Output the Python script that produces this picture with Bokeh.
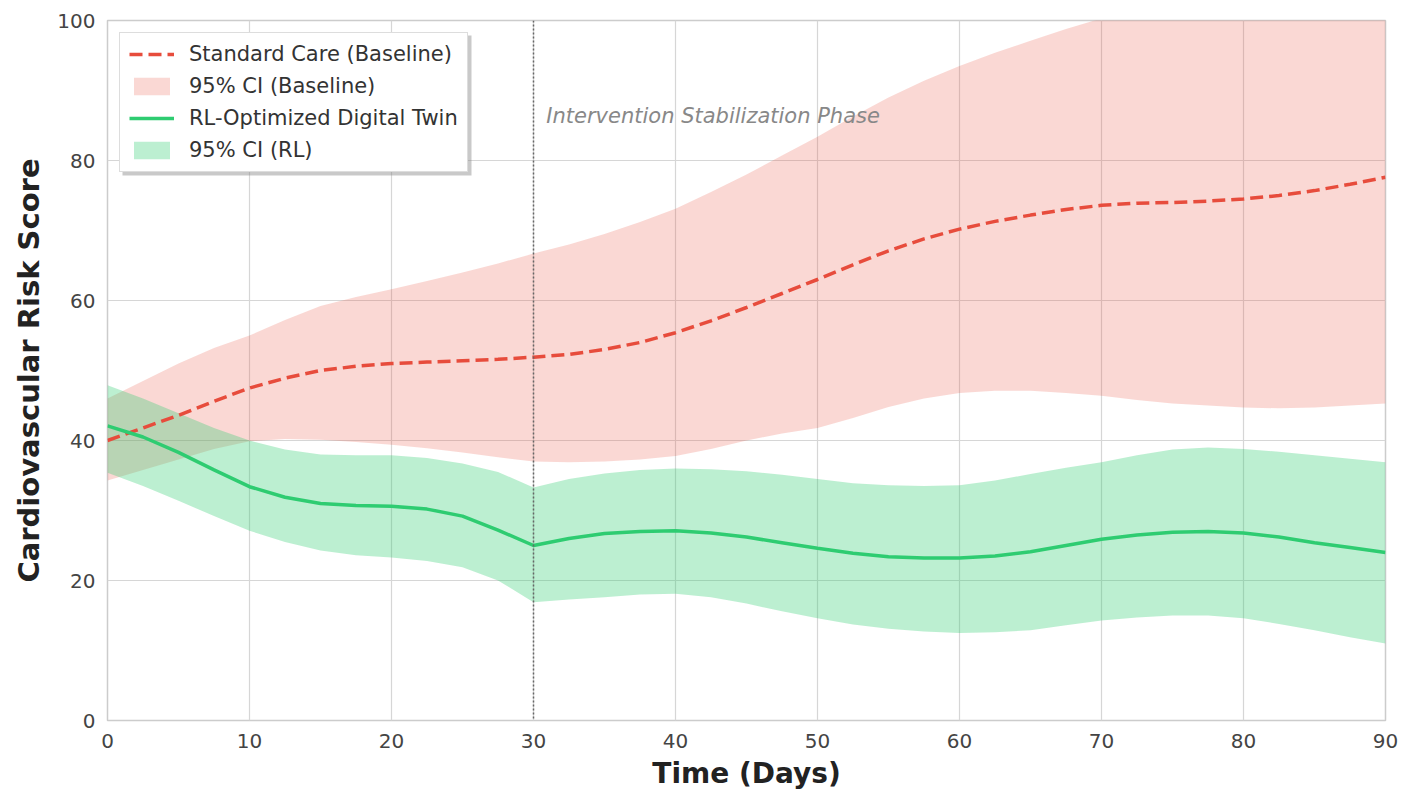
from bokeh.plotting import figure
from bokeh.models import Range1d, Span, Label, Legend, LegendItem, FixedTicker, BoxAnnotation
from bokeh.embed import file_html
from bokeh.resources import INLINE

# ---------------- data ----------------
days = [0, 2.5, 5, 7.5, 10, 12.5, 15, 17.5, 20, 22.5, 25, 27.5, 30,
        32.5, 35, 37.5, 40, 42.5, 45, 47.5, 50, 52.5, 55, 57.5, 60,
        62.5, 65, 67.5, 70, 72.5, 75, 77.5, 80, 82.5, 85, 87.5, 90]

baseline_mean = [40.0, 41.8, 43.6, 45.6, 47.5, 48.9, 50.0, 50.6, 51.0, 51.2, 51.4, 51.6, 51.9,
                 52.3, 53.0, 54.0, 55.4, 57.1, 59.0, 61.0, 63.0, 65.1, 67.1, 68.8, 70.2,
                 71.3, 72.2, 73.0, 73.6, 73.9, 74.0, 74.2, 74.5, 75.0, 75.7, 76.6, 77.6]
baseline_upper = [46.0, 48.5, 51.0, 53.2, 55.0, 57.2, 59.2, 60.5, 61.6, 62.8, 64.0, 65.3, 66.7,
                  68.0, 69.5, 71.2, 73.1, 75.5, 78.0, 80.7, 83.4, 86.3, 89.0, 91.4, 93.5,
                  95.4, 97.1, 98.8, 100.3, 101.5, 102.5, 103.5, 104.5, 105.8, 107.0, 108.5, 110.0]
baseline_lower = [34.3, 35.8, 37.3, 38.8, 39.9, 40.2, 40.1, 39.8, 39.4, 38.9, 38.3, 37.6, 37.0,
                  36.9, 37.0, 37.3, 37.8, 38.8, 40.0, 41.0, 41.8, 43.2, 44.8, 46.0, 46.8,
                  47.1, 47.1, 46.8, 46.4, 45.8, 45.3, 45.0, 44.7, 44.6, 44.7, 45.0, 45.3]

rl_mean = [42.1, 40.5, 38.3, 35.8, 33.4, 31.9, 31.0, 30.7, 30.6, 30.2, 29.2, 27.2, 25.0,
           26.0, 26.7, 27.0, 27.1, 26.8, 26.2, 25.4, 24.6, 23.9, 23.4, 23.2, 23.2,
           23.5, 24.1, 25.0, 25.9, 26.5, 26.9, 27.0, 26.8, 26.2, 25.4, 24.7, 24.0]
rl_upper = [47.9, 46.0, 43.9, 41.8, 40.0, 38.7, 38.0, 37.9, 37.9, 37.5, 36.7, 35.5, 33.3,
            34.5, 35.3, 35.8, 36.0, 35.9, 35.6, 35.1, 34.5, 33.9, 33.6, 33.5, 33.6,
            34.3, 35.2, 36.1, 36.9, 37.9, 38.7, 39.0, 38.8, 38.4, 37.9, 37.4, 36.9]
rl_lower = [35.4, 33.5, 31.4, 29.2, 27.1, 25.5, 24.3, 23.6, 23.3, 22.8, 21.9, 20.0, 16.9,
            17.3, 17.6, 18.0, 18.1, 17.6, 16.7, 15.6, 14.6, 13.7, 13.1, 12.7, 12.5,
            12.6, 12.9, 13.6, 14.3, 14.7, 15.0, 15.0, 14.6, 13.8, 12.9, 11.9, 11.0]

intervention_day = 30
x_ticks = [0, 10, 20, 30, 40, 50, 60, 70, 80, 90]
y_ticks = [0, 20, 40, 60, 80, 100]

RED = "#e74c3c"
GREEN = "#2ecc71"
FONT = "DejaVu Sans"

p = figure(width=1411, height=796, output_backend="svg", toolbar_location=None,
           x_range=Range1d(0, 90), y_range=Range1d(0, 100),
           min_border_left=107, min_border_right=26, min_border_top=20, min_border_bottom=76)

p.background_fill_color = "white"
p.border_fill_color = "white"
p.outline_line_color = "#cccccc"
p.outline_line_width = 1.5

# grid
p.xgrid.grid_line_color = "#d6d6d6"
p.ygrid.grid_line_color = "#d6d6d6"
p.xgrid.grid_line_width = 1.2
p.ygrid.grid_line_width = 1.2

# axes
p.xaxis.ticker = FixedTicker(ticks=x_ticks)
p.yaxis.ticker = FixedTicker(ticks=y_ticks)
for ax in (p.xaxis[0], p.yaxis[0]):
    ax.axis_line_color = None
    ax.major_tick_line_color = None
    ax.minor_tick_line_color = None
    ax.major_tick_out = 0
    ax.major_tick_in = 0
    ax.major_label_text_font = FONT
    ax.major_label_text_font_size = "20px"
    ax.major_label_text_color = "#444444"
    ax.axis_label_text_font = FONT
    ax.axis_label_text_font_style = "bold"
    ax.axis_label_text_color = "#222222"
p.xaxis.axis_label = "Time (Days)"
p.yaxis.axis_label = "Cardiovascular Risk Score"
p.xaxis.axis_label_text_font_size = "28px"
p.yaxis.axis_label_text_font_size = "29px"
p.xaxis.major_label_standoff = 13
p.yaxis.major_label_standoff = 12
p.xaxis.axis_label_standoff = 6
p.yaxis.axis_label_standoff = 8

# bands and lines
r_band_b = p.varea(x=days, y1=baseline_lower, y2=baseline_upper,
                   fill_color=RED, fill_alpha=0.22)
r_band_rl = p.varea(x=days, y1=rl_lower, y2=rl_upper,
                    fill_color=GREEN, fill_alpha=0.32)
r_line_b = p.line(x=days, y=baseline_mean, line_color=RED, line_width=3.5,
                  line_dash="13 6")
r_line_rl = p.line(x=days, y=rl_mean, line_color=GREEN, line_width=3.5)

# intervention marker
p.add_layout(Span(location=intervention_day, dimension="height",
                  line_color="#666666", line_width=1.5, line_dash="2 2"))
p.add_layout(Label(x=intervention_day + 0.9, y=86.3, text="Intervention Stabilization Phase",
                   text_font=FONT, text_font_style="italic", text_font_size="21px",
                   text_color="#888888", text_baseline="middle"))

# legend drop shadow (screen units relative to the plot frame, origin bottom-left)
p.add_layout(BoxAnnotation(left=15, right=364, top=685, bottom=545,
                           left_units="screen", right_units="screen",
                           top_units="screen", bottom_units="screen",
                           fill_color="#888888", fill_alpha=0.45, line_color=None))

legend = Legend(items=[
    LegendItem(label="Standard Care (Baseline)", renderers=[r_line_b]),
    LegendItem(label="95% CI (Baseline)", renderers=[r_band_b]),
    LegendItem(label="RL-Optimized Digital Twin", renderers=[r_line_rl]),
    LegendItem(label="95% CI (RL)", renderers=[r_band_rl]),
], location="top_left")
legend.label_text_font = FONT
legend.label_text_font_size = "21px"
legend.label_text_color = "#333333"
legend.glyph_width = 45
legend.glyph_height = 22
legend.label_height = 22
legend.spacing = 8
legend.padding = 9
legend.margin = 12
legend.label_standoff = 15
legend.border_line_color = "#bbbbbb"
legend.border_line_width = 1.2
legend.background_fill_color = "white"
legend.background_fill_alpha = 1.0
p.add_layout(legend)

open("out.html", "w").write(file_html(p, INLINE))
